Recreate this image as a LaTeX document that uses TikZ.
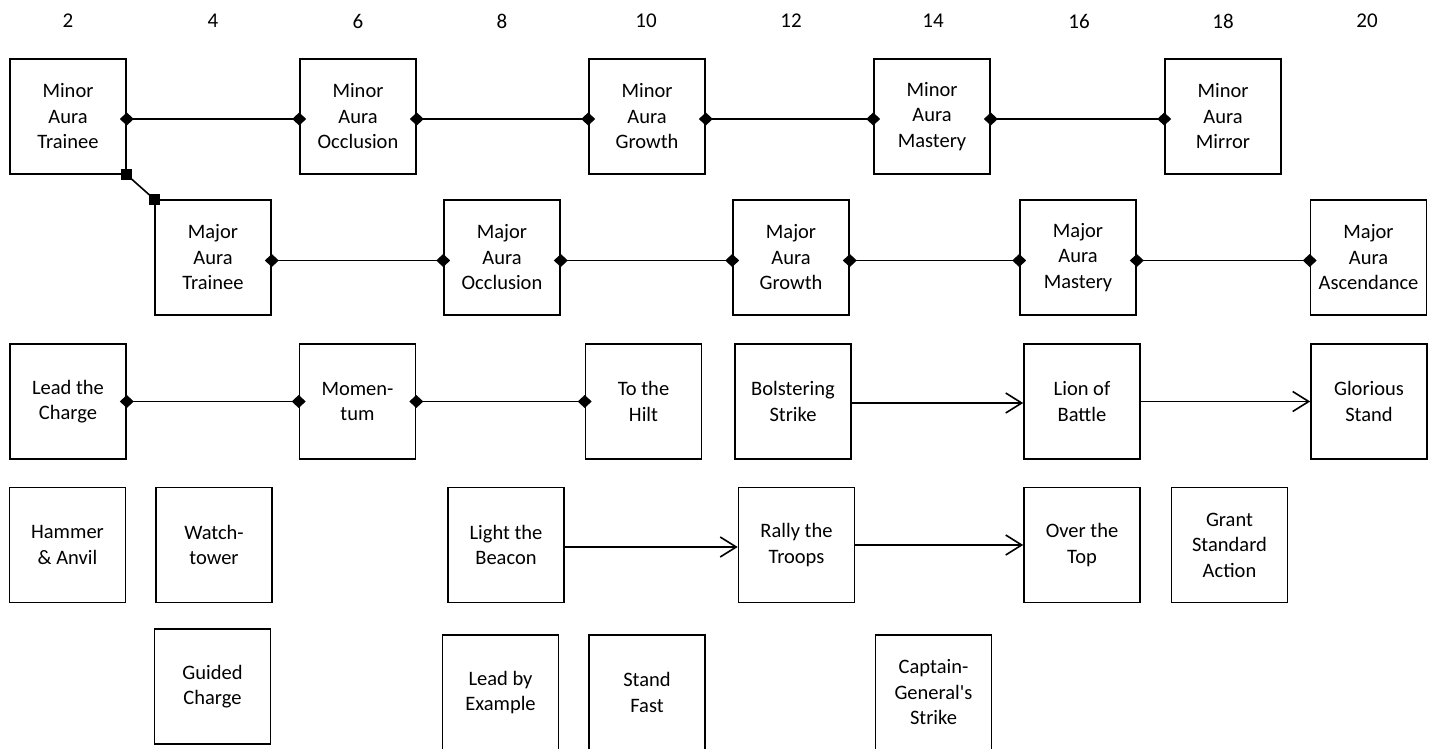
\documentclass[tikz,border=0pt]{standalone}
\usepackage{fontspec}
\setmainfont{Carlito}
\usetikzlibrary{arrows.meta}
\tikzset{
  box/.style={draw, line width=1.6pt, minimum width=116pt, minimum height=115pt, inner sep=0pt, align=center,
    font=\fontsize{20.5}{25.5}\selectfont},
  hdr/.style={font=\fontsize{21}{25.5}\selectfont, inner sep=0pt},
  dlink/.style={line width=1.6pt, {Diamond[length=14pt,width=13pt]}-{Diamond[length=14pt,width=13pt]}, shorten <=-7pt, shorten >=-7pt},
  slink/.style={line width=1.6pt},
  sqmark/.style={fill=black},
  alink/.style={line width=1.6pt, -{Straight Barb[length=16pt,width=20pt,line width=1.6pt]}},
}
\begin{document}
\begin{tikzpicture}[x=1pt,y=-1pt]
\useasboundingbox (0,0) rectangle (1432,749);
% headers
\foreach \n/\x in {2/68,4/213,6/358,8/502,10/646,12/791,14/933,16/1079,18/1223,20/1367}
  \node[hdr] (h\n) at (\x,21) {\n};
% row 1
\node[box] (mat) at (68,116.5) {Minor\\Aura\\Trainee};
\node[box] (mao) at (358,116.5) {Minor\\Aura\\Occlusion};
\node[box] (mag) at (647,116.5) {Minor\\Aura\\Growth};
\node[box] (mam) at (932,116.5) {Minor\\Aura\\Mastery};
\node[box] (mami) at (1223,116.5) {Minor\\Aura\\Mirror};
% row 2
\node[box] (jat) at (213,257.5) {Major\\Aura\\Trainee};
\node[box] (jao) at (502,257.5) {Major\\Aura\\Occlusion};
\node[box] (jag) at (791,257.5) {Major\\Aura\\Growth};
\node[box] (jam) at (1078,257.5) {Major\\Aura\\Mastery};
\node[box] (jaa) at (1368.5,257.5) {Major\\Aura\\Ascendance};
% row 3
\node[box] (ltc) at (68,401.5) {Lead the\\Charge};
\node[box] (mom) at (357.5,401.5) {Momen-\\tum};
\node[box] (tth) at (643.5,401.5) {To the\\Hilt};
\node[box] (bol) at (793,401.5) {Bolstering\\Strike};
\node[box] (lob) at (1082,401.5) {Lion of\\Battle};
\node[box] (gls) at (1369,401.5) {Glorious\\Stand};
% row 4
\node[box] (ham) at (67.5,545) {Hammer\\\& Anvil};
\node[box] (wat) at (214,545) {Watch-\\tower};
\node[box] (ltb) at (506,545) {Light the\\Beacon};
\node[box] (rtt) at (796.5,545) {Rally the\\Troops};
\node[box] (ott) at (1082,545) {Over the\\Top};
\node[box] (gsa) at (1229.5,545) {Grant\\Standard\\Action};
% row 5
\node[box] (gch) at (212.5,686.5) {Guided\\Charge};
\node[box] (lbe) at (500.5,692.5) {Lead by\\Example};
\node[box] (stf) at (647,692.5) {Stand\\Fast};
\node[box] (cgs) at (933.5,692.5) {Captain-\\General\textquotesingle s\\Strike};
% connectors
\draw[dlink] ([yshift=-2.5pt]mat.east) -- ([yshift=-2.5pt]mao.west);
\draw[dlink] ([yshift=-2.5pt]mao.east) -- ([yshift=-2.5pt]mag.west);
\draw[dlink] ([yshift=-2.5pt]mag.east) -- ([yshift=-2.5pt]mam.west);
\draw[dlink] ([yshift=-2.5pt]mam.east) -- ([yshift=-2.5pt]mami.west);
\draw[slink] (mat.south east) -- (jat.north west);
\fill[sqmark] ([shift={(-5.5,-5.5)}]mat.south east) rectangle ++(11,11);
\fill[sqmark] ([shift={(-5.5,-5.5)}]jat.north west) rectangle ++(11,11);
\draw[dlink] ([yshift=-3pt]jat.east) -- ([yshift=-3pt]jao.west);
\draw[dlink] ([yshift=-3pt]jao.east) -- ([yshift=-3pt]jag.west);
\draw[dlink] ([yshift=-3pt]jag.east) -- ([yshift=-3pt]jam.west);
\draw[dlink] ([yshift=-3pt]jam.east) -- ([yshift=-3pt]jaa.west);
\draw[dlink] (ltc.east) -- (mom.west);
\draw[dlink] (mom.east) -- (tth.west);
\draw[alink] ([yshift=-1.5pt]bol.east) -- ([yshift=-1.5pt]lob.west);
\draw[alink] (lob.east) -- (gls.west);
\draw[alink] ([yshift=-2pt]ltb.east) -- ([yshift=-2pt]rtt.west);
\draw[alink] (rtt.east) -- (ott.west);
\end{tikzpicture}
\end{document}
